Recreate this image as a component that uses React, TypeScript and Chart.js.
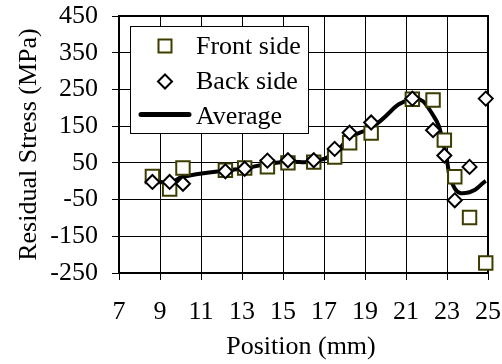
import React, { useEffect, useRef } from 'react';
import Chart from 'chart.js/auto';

const positions = [8.63, 9.47, 10.12, 12.19, 13.13, 14.24, 15.24, 16.5, 17.52, 18.25, 19.3, 21.31, 22.32, 22.87, 23.38, 24.1, 24.89];
const frontSide = [13, -21, 36, 30, 36, 39, 50, 52, 66, 105, 131, 223, 221, 112, 12, -99, -223];
const backSide = [-2, -2, -7, 27, 34, 56, 57, 57, 88, 132, 160, 225, 139, 70, -52, 39, 225];
const average = [3, -4, 12, 29, 35, 47, 53, 54, 77, 118, 146, 224, 180, 91, -20, -30, 1];

const legendLabels = ['Front side', 'Back side', 'Average'];
const xTitle = 'Position (mm)';
const yTitle = 'Residual Stress (MPa)';

const FONT = '"Liberation Serif", "Times New Roman", serif';
const FRONT_COLOR = '#3d3d00';
const LINE = 'rgb(0,0,0)';

const toPoints = (ys: number[]) => ys.map((y, i) => ({ x: positions[i], y }));

const noPad = (s: any) => {
  s.paddingTop = 0;
  s.paddingBottom = 0;
  s.paddingLeft = 0;
  s.paddingRight = 0;
};

const decor = {
  id: 'decor',
  beforeDatasetsDraw(chart: any) {
    const { ctx, chartArea: a } = chart;
    ctx.save();
    ctx.fillStyle = LINE;
    ctx.fillRect(a.left - 1, a.top - 1, a.right - a.left + 2, 2);
    ctx.fillRect(a.right - 1, a.top - 1, 2, a.bottom - a.top + 2);
    ctx.restore();
  },
  afterDraw(chart: any) {
    const { ctx, chartArea: a } = chart;
    ctx.save();
    ctx.fillStyle = '#000';
    ctx.font = `26px ${FONT}`;
    ctx.textAlign = 'center';
    ctx.textBaseline = 'alphabetic';
    ctx.fillText(xTitle, 301, 354);
    ctx.save();
    ctx.translate(36, (a.top + a.bottom) / 2);
    ctx.rotate(-Math.PI / 2);
    ctx.fillText(yTitle, 0, 0);
    ctx.restore();

    const lx = 130, ly = 26, lw = 179, lh = 108;
    ctx.fillStyle = LINE;
    ctx.fillRect(lx, ly, lw, lh);
    ctx.fillStyle = '#fff';
    ctx.fillRect(lx + 1, ly + 1, lw - 2, lh - 2);

    ctx.lineWidth = 2;
    ctx.strokeStyle = FRONT_COLOR;
    ctx.fillStyle = '#fff';
    ctx.beginPath();
    ctx.rect(165 - 6.5, 46 - 6.5, 13, 13);
    ctx.fill();
    ctx.stroke();
    ctx.strokeStyle = '#000';
    ctx.beginPath();
    ctx.moveTo(165 - 7, 81.5);
    ctx.lineTo(165, 81.5 - 7);
    ctx.lineTo(165 + 7, 81.5);
    ctx.lineTo(165, 81.5 + 7);
    ctx.closePath();
    ctx.fill();
    ctx.stroke();
    ctx.lineWidth = 5;
    ctx.lineCap = 'round';
    ctx.beginPath();
    ctx.moveTo(141, 114.5);
    ctx.lineTo(189, 114.5);
    ctx.stroke();

    ctx.fillStyle = '#000';
    ctx.textAlign = 'left';
    ctx.fillText(legendLabels[0], 196, 53.5);
    ctx.fillText(legendLabels[1], 196, 88.5);
    ctx.fillText(legendLabels[2], 196, 123.5);
    ctx.restore();
  },
};

export default function App() {
  const ref = useRef<HTMLCanvasElement>(null);
  useEffect(() => {
    if (!ref.current) return;
    const chart = new Chart(ref.current, {
      type: 'scatter',
      data: {
        datasets: [
          {
            label: legendLabels[1],
            data: toPoints(backSide),
            pointStyle: 'rectRot',
            pointRadius: 7,
            pointBorderWidth: 2,
            borderColor: '#000',
            backgroundColor: '#fff',
            showLine: false,
            fill: false,
            clip: false,
            order: 0,
          },
          {
            label: legendLabels[0],
            data: toPoints(frontSide),
            pointStyle: 'rect',
            pointRadius: 9.5,
            pointBorderWidth: 2,
            borderColor: FRONT_COLOR,
            backgroundColor: '#fff',
            showLine: false,
            fill: false,
            clip: false,
            order: 1,
          },
          {
            label: legendLabels[2],
            data: toPoints(average),
            showLine: true,
            pointRadius: 0,
            borderWidth: 4,
            borderColor: '#000',
            backgroundColor: '#000',
            fill: false,
            tension: 0.5,
            clip: false,
            order: 2,
          },
        ],
      },
      options: {
        responsive: false,
        animation: false,
        events: [],
        layout: { padding: { top: 16, right: 14, left: 0, bottom: 0 } },
        plugins: { legend: { display: false }, tooltip: { enabled: false } },
        scales: {
          x: {
            type: 'linear',
            min: 7,
            max: 25,
            afterFit: (s: any) => { s.height = 91; noPad(s); },
            ticks: {
              stepSize: 2,
              autoSkip: false,
              maxRotation: 0,
              padding: 17,
              color: '#000',
              font: { family: FONT, size: 26 },
            },
            grid: { display: true, drawOnChartArea: true, color: LINE, lineWidth: 1, drawTicks: true, tickLength: 7, tickColor: LINE },
            border: { display: true, color: '#000', width: 2 },
            title: { display: false },
          },
          y: {
            type: 'linear',
            min: -250,
            max: 450,
            afterFit: (s: any) => { s.width = 119; noPad(s); },
            ticks: {
              stepSize: 100,
              autoSkip: false,
              padding: 14,
              color: '#000',
              font: { family: FONT, size: 26 },
            },
            grid: { display: true, drawOnChartArea: true, color: LINE, lineWidth: 1, drawTicks: true, tickLength: 7, tickColor: LINE },
            border: { display: true, color: '#000', width: 2 },
            title: { display: false },
          },
        },
      },
      plugins: [decor],
    });
    return () => chart.destroy();
  }, []);
  return (
    <div style={{ position: 'fixed', left: 0, top: 0, width: 502, height: 364, background: '#fff' }}>
      <canvas ref={ref} width={502} height={364} style={{ display: 'block' }} />
    </div>
  );
}
